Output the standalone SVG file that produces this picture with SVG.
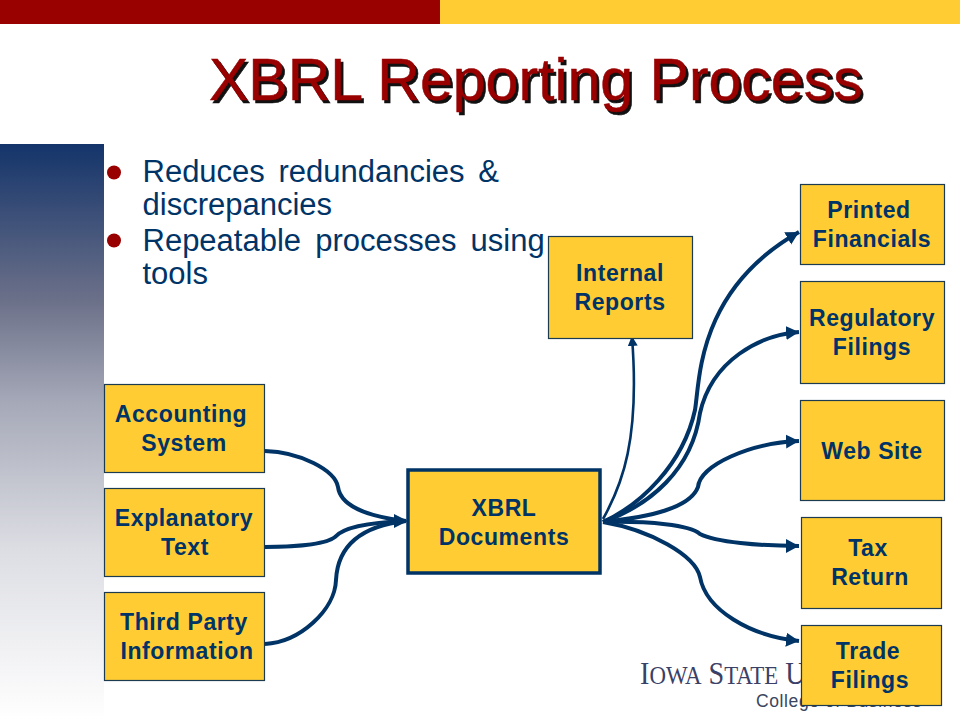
<svg xmlns="http://www.w3.org/2000/svg" width="960" height="720" viewBox="0 0 960 720">
<style>
text{font-family:"Liberation Sans",Arial,sans-serif}
.n{fill:#FFCC33;stroke:#1c3b50;stroke-width:1.2}
.l{font-size:23px;font-weight:bold;fill:#003366;text-anchor:middle;letter-spacing:.6px}
.b{font-size:31px;fill:#003366}
.t{font-size:59px}
.c{fill:none;stroke:#003366;stroke-width:4}
.ca{marker-end:url(#a)}
</style>
<defs>
<linearGradient id="g" x1="0" y1="0" x2="0" y2="1"><stop offset="0" stop-color="#14346a"/><stop offset=".27" stop-color="#6b7089"/><stop offset=".45" stop-color="#a6a9b8"/><stop offset=".7" stop-color="#dcdde3"/><stop offset="1" stop-color="#ffffff"/></linearGradient>
<marker id="a" markerUnits="userSpaceOnUse" markerWidth="15" markerHeight="15" refX="13" refY="7" orient="auto"><path d="M0 0L13 7L0 14Z" fill="#003366"/></marker>
<marker id="s" markerUnits="userSpaceOnUse" markerWidth="10" markerHeight="12" refX="9" refY="5" orient="auto"><path d="M0 0L10 5L0 10Z" fill="#003366"/></marker>
</defs>
<rect width="960" height="720" fill="#fff"/>
<rect width="440" height="24" fill="#990000"/>
<rect x="440" width="520" height="24" fill="#FFCC33"/>
<rect y="144" width="104" height="576" fill="url(#g)"/>
<g id="title">
<text class="t" x="211.500" y="102.500" fill="#111" stroke="#111" stroke-width=".6">XBRL Reporting Process</text>
<text class="t" x="209" y="100" fill="#990000" stroke="#990000" stroke-width=".5">XBRL Reporting Process</text>
</g>
<g id="bullets">
<circle cx="114" cy="172.500" r="7" fill="#990000"/>
<circle cx="114" cy="240.500" r="7" fill="#990000"/>
<text class="b" x="142.500" y="182" word-spacing="5">Reduces redundancies &amp;</text>
<text class="b" x="142.500" y="215">discrepancies</text>
<text class="b" x="142.500" y="251" word-spacing="5.500">Repeatable processes using</text>
<text class="b" x="142.500" y="284">tools</text>
</g>
<g id="logo">
<text transform="translate(640 684) scale(.88 1)" font-size="32" fill="#3a4066" style="font-family:'Liberation Serif',serif">I<tspan font-size="26">OWA</tspan> S<tspan font-size="26">TATE</tspan> U</text>
<text x="756" y="707" font-size="17.500" fill="#3a4660" letter-spacing="0.6">College of Business</text>
</g>
<g id="connectors">
<path class="c ca" d="M603 522C640 505 683 465 695 410C700 380 697 290 799 232"/>
<path class="c ca" d="M603 522C650 505 692 470 700 413C712 360 760 335 799 332"/>
<path class="c ca" d="M603 522C650 517 690 508 698 487C700 465 750 443 799 441"/>
<path class="c ca" d="M603 522C650 521 690 525 700 534C715 542 760 546 799 546"/>
<path class="c ca" d="M603 522C650 530 695 555 700 577C706 610 750 636 799 641"/>
<path class="c" style="stroke-width:2.6;marker-end:url(#s)" d="M603 519C622 485 640 440 632 337"/>
<path class="c" d="M265 451C300 452 335 470 338 487C341 510 380 518 406 521"/>
<path class="c" d="M265 547C290 547 325 545 335 537C345 525 380 522 406 521"/>
<path class="c" d="M265 644C300 642 335 610 336 580C338 540 370 525 406 521"/>
<path d="M394 514L408 521L394 528Z" fill="#003366"/>
</g>
<g id="accounting"><rect class="n" x="104.500" y="384.500" width="160" height="88"/><text class="l" x="181" y="422">Accounting</text><text class="l" x="184" y="451">System</text></g>
<g id="explanatory"><rect class="n" x="104.500" y="488.500" width="160" height="88"/><text class="l" x="184" y="526">Explanatory</text><text class="l" x="185" y="555">Text</text></g>
<g id="third-party"><rect class="n" x="104.500" y="592.500" width="160" height="88"/><text class="l" x="184" y="630">Third Party</text><text class="l" x="187" y="659">Information</text></g>
<g id="xbrl"><rect x="408" y="470" width="192" height="103" fill="#FFCC33" stroke="#003366" stroke-width="3.500"/><text class="l" x="504" y="516">XBRL</text><text class="l" x="504" y="545">Documents</text></g>
<g id="internal"><rect class="n" x="548.500" y="236.500" width="144" height="102"/><text class="l" x="620" y="281">Internal</text><text class="l" x="620" y="310">Reports</text></g>
<g id="printed"><rect class="n" x="800.500" y="184.500" width="144" height="80"/><text class="l" x="869" y="218">Printed</text><text class="l" x="872" y="247">Financials</text></g>
<g id="regulatory"><rect class="n" x="800.500" y="281.500" width="144" height="102"/><text class="l" x="872" y="326">Regulatory</text><text class="l" x="872" y="355">Filings</text></g>
<g id="web"><rect class="n" x="800.500" y="400.500" width="144" height="100"/><text class="l" x="872" y="459">Web Site</text></g>
<g id="tax"><rect class="n" x="801.500" y="517.500" width="140" height="91"/><text class="l" x="868" y="556">Tax</text><text class="l" x="870" y="585">Return</text></g>
<g id="trade"><rect class="n" x="801.500" y="625.500" width="140" height="80"/><text class="l" x="868" y="659">Trade</text><text class="l" x="870" y="688">Filings</text></g>
</svg>
